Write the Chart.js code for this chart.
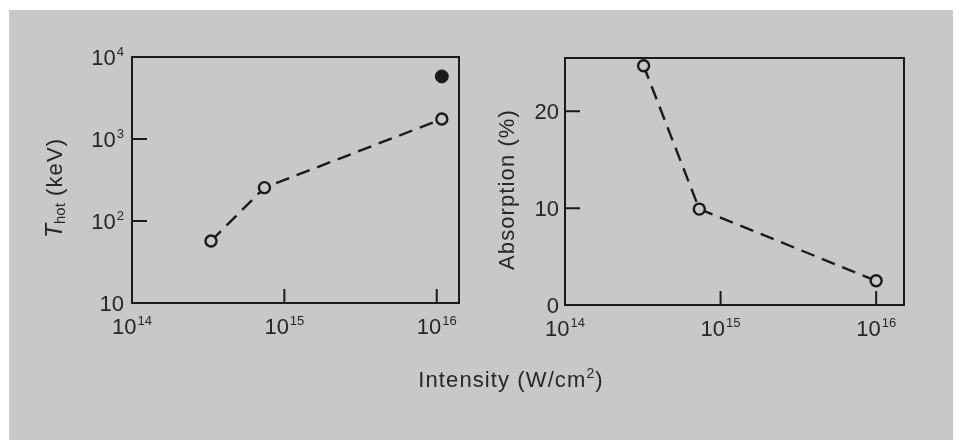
<!DOCTYPE html>
<html>
<head>
<meta charset="utf-8">
<script src="https://cdn.jsdelivr.net/npm/chart.js@4.4.0/dist/chart.umd.min.js"></script>
<style>
  body { margin: 0; width: 959px; height: 440px; position: relative; overflow: hidden; background: #fff;
         font-family: "Liberation Sans", Arial, sans-serif; }
  #sheet { position: absolute; left: 9px; top: 10px; width: 944px; height: 430px; background: #c8c8c8; }
  .plot { position: absolute; top: 0; height: 440px; }
  #left { left: 0; width: 480px; }
  #right { left: 480px; width: 479px; }
  #xtitle { position: absolute; left: 311px; width: 400px; top: 366px; line-height: 28px; text-align: center;
            font-size: 22px; letter-spacing: 1.1px; color: #262626; }
  #xtitle span { font-size: 14px; position: relative; top: -9px; }
</style>
</head>
<body>
<div id="sheet"></div>
<div class="plot" id="left"><canvas id="thotChart"></canvas></div>
<div class="plot" id="right"><canvas id="absChart"></canvas></div>
<div id="xtitle">Intensity (W/cm<span>2</span>)</div>

<script>
// laser intensity (W/cm2) for the measured shots
const intensity = [3.3e14, 7.4e14, 1.08e16];
const tHot = [57, 255, 1750];          // keV, open circles
const tHotExtraX = [1.08e16];
const tHotExtra = [5800];              // keV, filled circle
const absIntensity = [3.2e14, 7.3e14, 1.0e16];
const absorption = [24.7, 9.9, 2.5];   // percent

const intensityTicks = [1e14, 1e15, 1e16];
const tHotTicks = [10, 100, 1000, 10000];
const absTicks = [0, 10, 20];

const INK = '#1a1a1a';
const TEXT = '#262626';
const FONT = '"Liberation Sans", Arial, sans-serif';

function pow10Label(v) {
    const e = Math.round(Math.log10(v));
    return e === 1 ? { base: '10', exp: '' } : { base: '10', exp: String(e) };
}
function plainLabel(v) {
    return { base: String(v), exp: '' };
}

// "10" with a raised exponent, anchored right or centred
function drawLabel(ctx, parts, x, y, align) {
    ctx.font = '22px ' + FONT;
    const wb = ctx.measureText(parts.base).width;
    ctx.font = '13px ' + FONT;
    const we = parts.exp ? ctx.measureText(parts.exp).width + 1 : 0;
    const w = wb + we;
    let x0 = align === 'right' ? x - w : x - w / 2;
    ctx.textAlign = 'left';
    ctx.textBaseline = 'alphabetic';
    ctx.font = '22px ' + FONT;
    ctx.fillText(parts.base, x0, y);
    if (parts.exp) {
        ctx.font = '13px ' + FONT;
        ctx.fillText(parts.exp, x0 + wb + 1, y - 9);
    }
}

// rotated axis title built from styled pieces
function drawVerticalTitle(ctx, pieces, cx, cy) {
    ctx.save();
    ctx.translate(cx, cy);
    ctx.rotate(-Math.PI / 2);
    ctx.textBaseline = 'middle';
    ctx.textAlign = 'left';
    const widthOf = p => {
        ctx.font = p.font;
        ctx.letterSpacing = p.spacing || '0px';
        return ctx.measureText(p.text).width;
    };
    let total = 0;
    pieces.forEach(p => { total += widthOf(p); });
    let x = -total / 2;
    pieces.forEach(p => {
        const w = widthOf(p);
        ctx.fillText(p.text, x, p.dy || 0);
        x += w;
    });
    ctx.restore();
}

const framePlugin = {
    id: 'frame',
    beforeDatasetsDraw(chart, args, opts) {
        const { ctx, chartArea: a } = chart;
        const xs = chart.scales.x, ys = chart.scales.y;
        ctx.save();
        ctx.strokeStyle = INK;
        ctx.lineWidth = 2;
        ctx.strokeRect(a.left, a.top, a.right - a.left, a.bottom - a.top);

        // short inward tick marks
        ctx.beginPath();
        opts.xTicks.forEach(v => {
            const px = xs.getPixelForValue(v);
            if (px - a.left < 3 || a.right - px < 3) return;
            ctx.moveTo(px, a.bottom);
            ctx.lineTo(px, a.bottom - 14);
        });
        opts.yTicks.forEach(v => {
            const py = ys.getPixelForValue(v);
            if (py - a.top < 3 || a.bottom - py < 3) return;
            ctx.moveTo(a.left, py);
            ctx.lineTo(a.left + 15, py);
        });
        ctx.stroke();

        ctx.fillStyle = TEXT;
        opts.xTicks.forEach(v => {
            drawLabel(ctx, pow10Label(v), xs.getPixelForValue(v), a.bottom + 31, 'center');
        });
        opts.yTicks.forEach(v => {
            drawLabel(ctx, opts.yFormat(v), a.left - opts.yGap, ys.getPixelForValue(v) + 8, 'right');
        });
        drawVerticalTitle(ctx, opts.title, opts.titleX, (a.top + a.bottom) / 2 + 8);
        ctx.restore();
    }
};

const lineStyle = {
    borderColor: INK,
    borderWidth: 2.4,
    borderDash: [14, 8],
    pointRadius: 5.5,
    pointBorderWidth: 2.4,
    pointBorderColor: INK,
    pointBackgroundColor: '#c8c8c8',
    clip: false
};

function baseOptions(xMax, yScale, plugin) {
    return {
        responsive: true,
        maintainAspectRatio: false,
        animation: false,
        events: [],
        layout: { padding: plugin.pad },
        scales: {
            x: { type: 'logarithmic', min: 1e14, max: xMax, display: false },
            y: Object.assign({ display: false }, yScale)
        },
        plugins: {
            legend: { display: false },
            tooltip: { enabled: false },
            frame: plugin.frame
        }
    };
}

// hot-electron temperature vs intensity
new Chart(document.getElementById('thotChart'), {
    type: 'line',
    data: {
        datasets: [
            Object.assign({ data: intensity.map((x, i) => ({ x, y: tHot[i] })) }, lineStyle),
            {
                data: tHotExtraX.map((x, i) => ({ x, y: tHotExtra[i] })),
                showLine: false,
                pointRadius: 6.5,
                pointBackgroundColor: INK,
                pointBorderColor: INK,
                clip: false
            }
        ]
    },
    options: baseOptions(1.4e16, { type: 'logarithmic', min: 10, max: 1e4 }, {
        pad: { left: 132, top: 57, right: 21, bottom: 137 },
        frame: {
            xTicks: intensityTicks,
            yTicks: tHotTicks,
            yFormat: pow10Label,
            yGap: 8,
            titleX: 56,
            title: [
                { text: 'T', font: 'italic 23px ' + FONT },
                { text: 'hot', font: '15px ' + FONT, dy: 5 },
                { text: ' (keV)', font: '22px ' + FONT, spacing: '1.1px' }
            ]
        }
    }),
    plugins: [framePlugin]
});

// absorption fraction vs intensity
new Chart(document.getElementById('absChart'), {
    type: 'line',
    data: {
        datasets: [
            Object.assign({ data: absIntensity.map((x, i) => ({ x, y: absorption[i] })) }, lineStyle)
        ]
    },
    options: baseOptions(1.51e16, { type: 'linear', min: 0, max: 25.5 }, {
        pad: { left: 85, top: 58, right: 55, bottom: 135 },
        frame: {
            xTicks: intensityTicks,
            yTicks: absTicks,
            yFormat: plainLabel,
            yGap: 6,
            titleX: 28,
            title: [{ text: 'Absorption (%)', font: '22px ' + FONT, spacing: '1.1px' }]
        }
    }),
    plugins: [framePlugin]
});
</script>
</body>
</html>
